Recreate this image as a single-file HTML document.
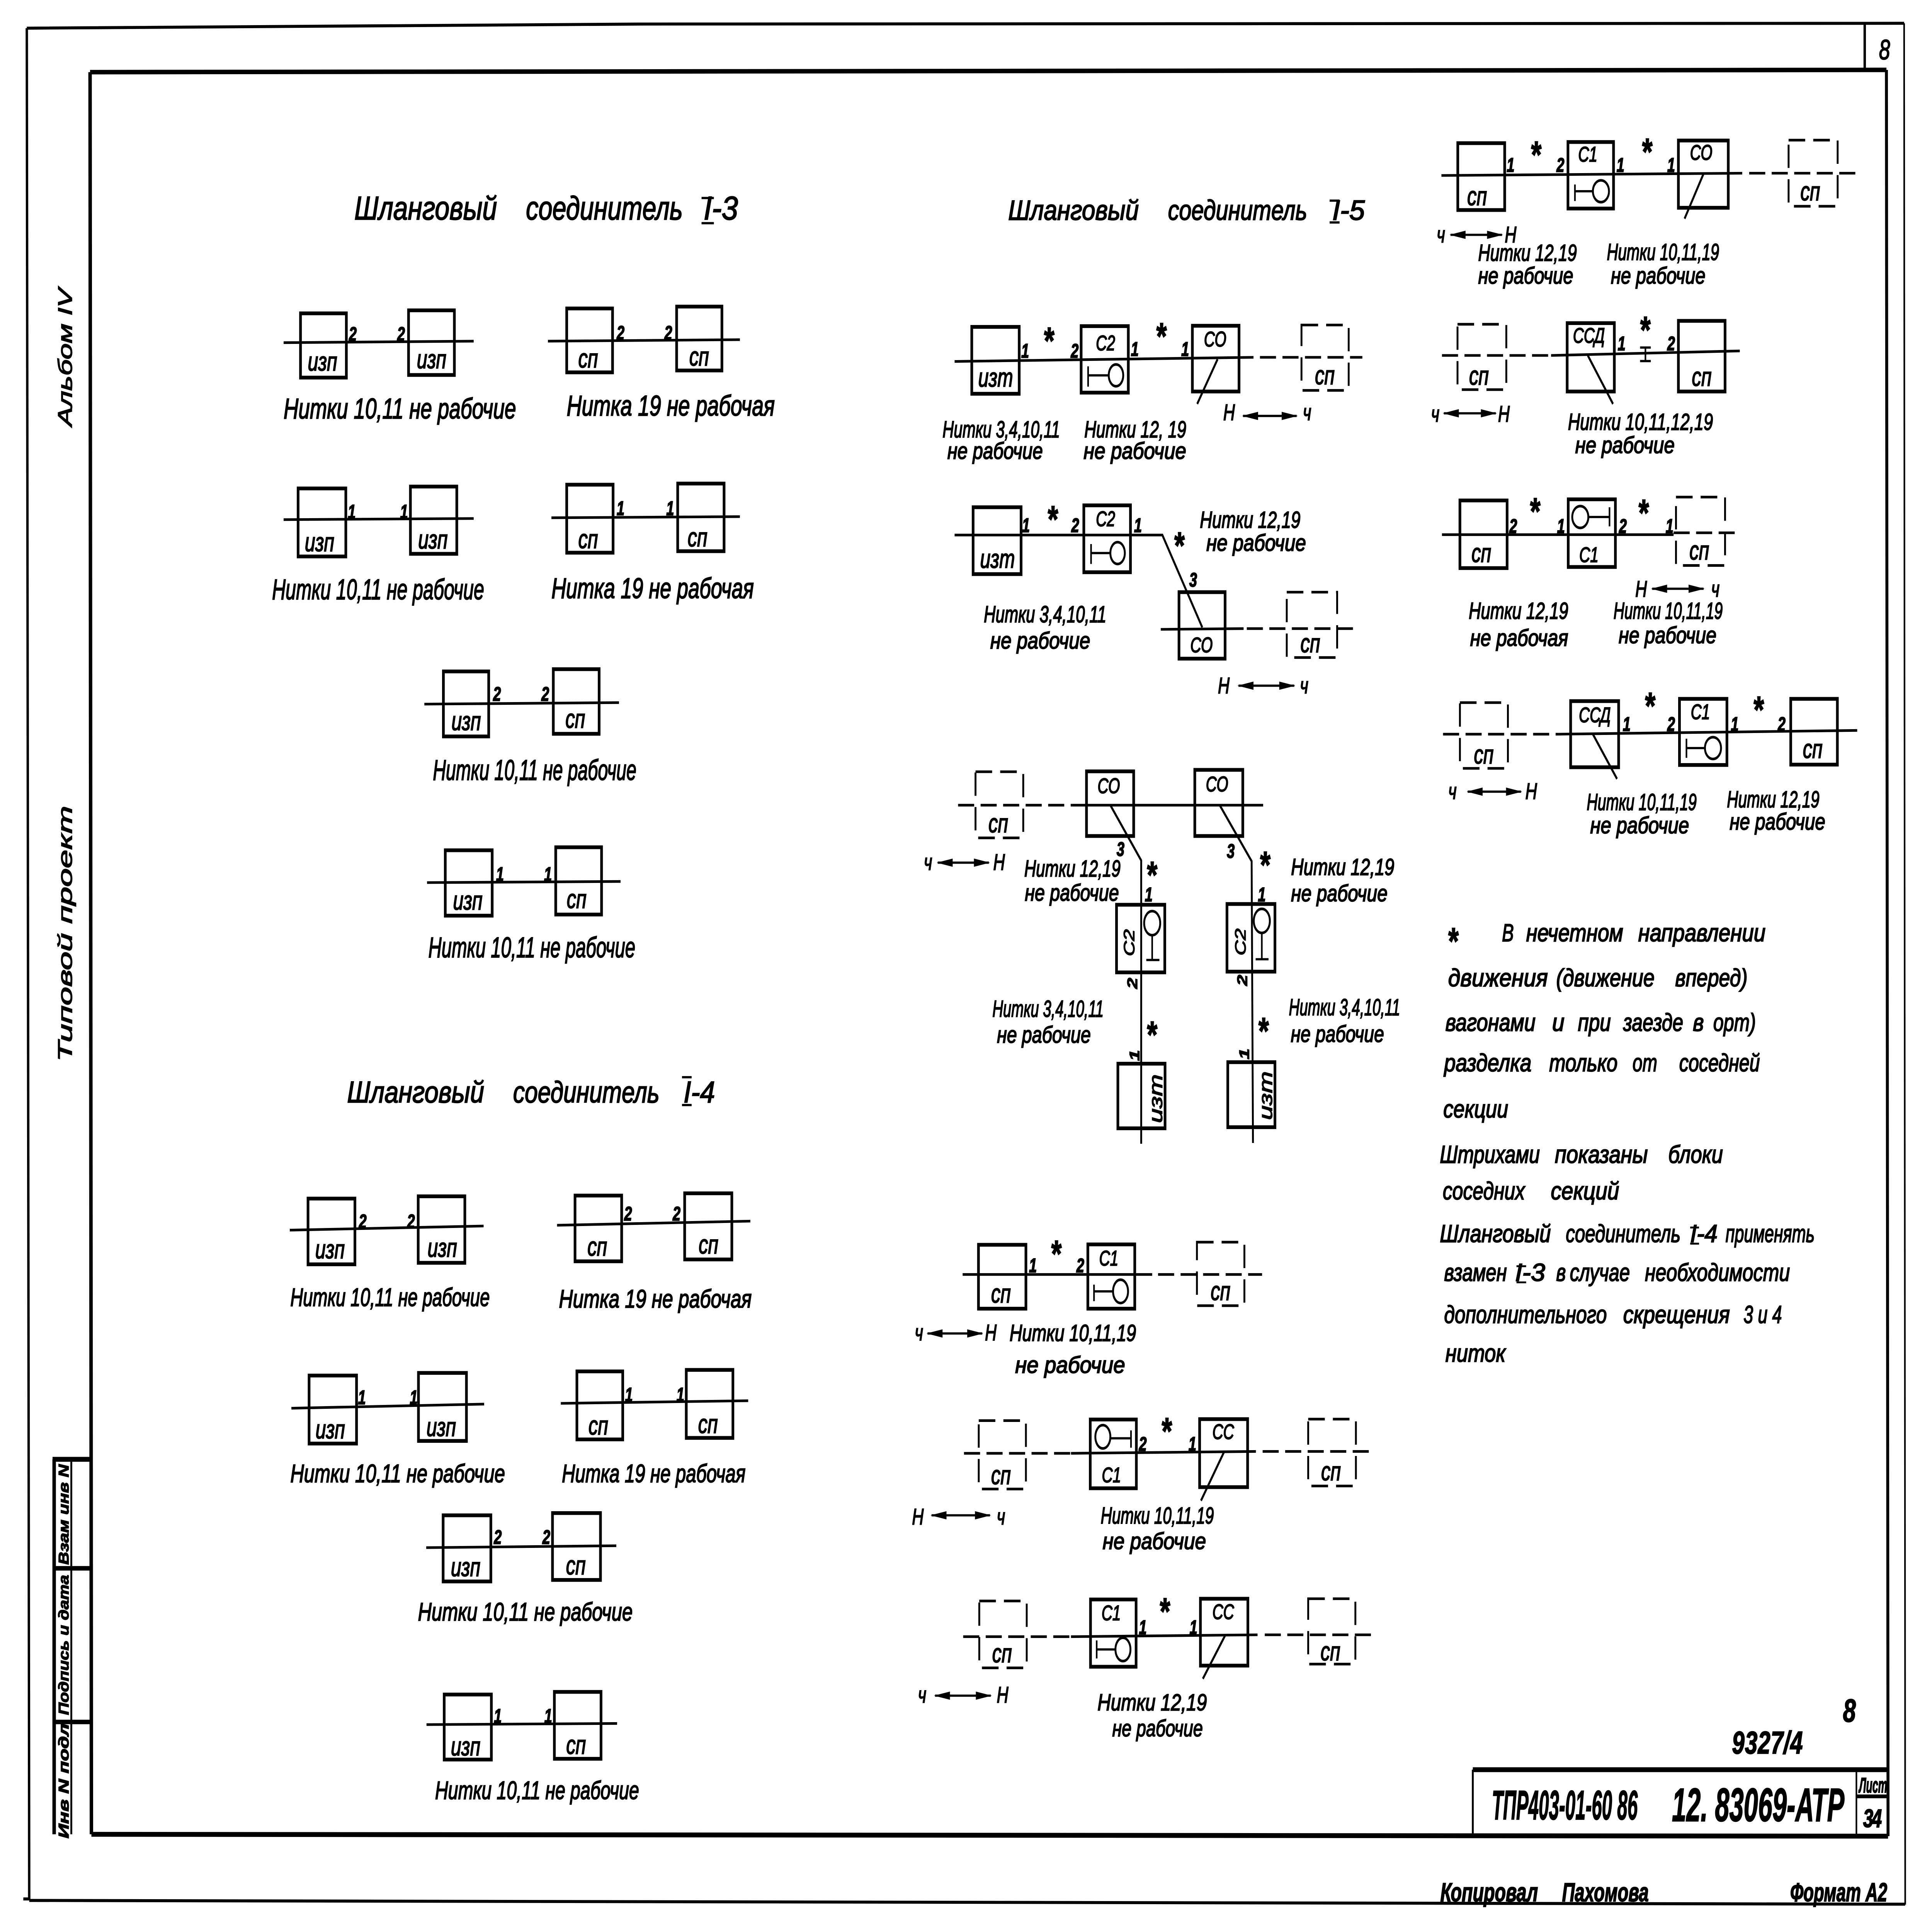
<!DOCTYPE html>
<html lang="ru"><head><meta charset="utf-8"><title>Шланговый соединитель</title>
<style>
html,body{margin:0;padding:0;background:#fff;width:100%;height:100%;overflow:hidden}
svg{display:block;width:100vw;height:100vh}
text{font-family:"Liberation Sans","DejaVu Sans",sans-serif;font-style:italic;fill:#000;stroke:#000;stroke-width:2.5px}
.c{font-size:76px}
.e{font-size:68px}
.d{font-size:62px}
.t{font-size:88px}
.t2{font-size:80px}
.t3{font-size:74px}
.k{font-size:74px}
.w{font-size:66px}
.l{font-size:70px;text-anchor:middle}
.u{font-size:56px;text-anchor:middle}
.n{font-size:52px;text-anchor:middle;font-weight:bold}
.s{font-size:100px;text-anchor:middle;font-style:normal;font-weight:bold}
.a{font-size:60px;text-anchor:middle}
.b{font-weight:bold}
.f path,.f polyline,.f line{fill:none;stroke:#000}
.R rect{fill:none;stroke:#000;stroke-width:10}
.D rect{fill:none;stroke:#000;stroke-width:7;stroke-dasharray:62 30}
.L path{fill:none;stroke:#000;stroke-width:7}
.Q path{fill:none;stroke:#000;stroke-width:7;stroke-dasharray:60 24}
.S path{fill:none;stroke:#000;stroke-width:6}
.S ellipse{fill:none;stroke:#000;stroke-width:7}
.A path{fill:none;stroke:#000;stroke-width:6;marker-start:url(#m);marker-end:url(#m)}
</style></head><body>
<svg xmlns="http://www.w3.org/2000/svg" viewBox="0 0 7207 5142" preserveAspectRatio="none">
<defs><marker id="m" markerUnits="userSpaceOnUse" markerWidth="60" markerHeight="24" refX="56" refY="12" orient="auto-start-reverse"><path d="M0 1L60 12L0 23Z" fill="#000" stroke="none"/></marker></defs>
<rect width="7207" height="5142" fill="#fff"/>

<!-- frames -->
<g class="f">
<polyline points="100,75 2400,64 7103,62" stroke-width="8"/>
<path d="M100 75L109 5057" stroke-width="9"/>
<path d="M87 5054H109M109 5058L7107 5068" stroke-width="8"/>
<path d="M7103 62L7107 5069" stroke-width="6"/>
<path d="M336 192L7037 186" stroke-width="12"/>
<path d="M336 192L341 4882" stroke-width="13"/>
<path d="M341 4882L7043 4887" stroke-width="13"/>
<path d="M7037 186L7043 4887" stroke-width="11"/>
<path d="M6956 63V186" stroke-width="9"/>
<!-- title block -->
<path d="M5494 4710H7043" stroke-width="13"/>
<path d="M5494 4710V4887" stroke-width="7"/>
<path d="M6925 4716V4885" stroke-width="6"/>
<path d="M6925 4781H7043" stroke-width="10"/>
<!-- side stamp -->
<path d="M202 3884V4882" stroke-width="13"/>
<path d="M196 3884H335" stroke-width="13"/>
<path d="M196 4174H335M196 4583H335" stroke-width="12"/>
<path d="M266 3884V4882" stroke-width="7"/>
<!-- roman numeral bars -->
<path d="M2617 527H2663M2617 594H2663M4960 534H4997M4960 592H4997M2544 2867H2580M2544 2941H2580" stroke-width="6"/>
<path d="M6305 3267H6338M6305 3310H6338M5657 3370H5693M5657 3413H5693" stroke-width="5"/>
</g>
<text class="k" x="7030" y="158" text-anchor="middle" font-size="84">8</text>
<text class="b" transform="translate(256,4740) rotate(-90)" font-size="54" text-anchor="middle">Инв N подл</text>
<text class="b" transform="translate(256,4378) rotate(-90)" font-size="54" text-anchor="middle" textLength="373" lengthAdjust="spacingAndGlyphs">Подпись и дата</text>
<text class="b" transform="translate(256,4031) rotate(-90)" font-size="54" text-anchor="middle" textLength="267" lengthAdjust="spacingAndGlyphs">Взам инв N</text>
<text class="k" transform="translate(268,951) rotate(-90)" text-anchor="middle" textLength="367" lengthAdjust="spacingAndGlyphs">Альбом IV</text>
<text class="k" transform="translate(268,2485) rotate(-90)" text-anchor="middle" textLength="681" lengthAdjust="spacingAndGlyphs">Типовой  проект</text>

<text class="b" x="5565" y="4842" font-size="110" textLength="544" lengthAdjust="spacingAndGlyphs">ТПР403-01-60 86</text>
<text class="b" x="6237" y="4847" font-size="125" textLength="643" lengthAdjust="spacingAndGlyphs">12. 83069-АТР</text>
<text class="b" x="6935" y="4771" font-size="56" textLength="105" lengthAdjust="spacingAndGlyphs">Лист</text>
<text class="b" x="6950" y="4863" font-size="68" textLength="70">34</text>
<text class="b" x="6461" y="4667" font-size="84" textLength="264">9327/4</text>
<text class="b" x="6875" y="4582" font-size="86">8</text>
<text class="b" x="5373" y="5060" font-size="70" textLength="364" lengthAdjust="spacingAndGlyphs">Копировал</text>
<text class="b" x="5827" y="5060" font-size="70" textLength="323" lengthAdjust="spacingAndGlyphs">Пахомова</text>
<text class="b" x="6678" y="5060" font-size="70" textLength="362" lengthAdjust="spacingAndGlyphs">Формат А2</text>

<!-- titles -->
<text class="t" x="1322" y="584" textLength="532" lengthAdjust="spacingAndGlyphs">Шланговый</text>
<text class="t" x="1962" y="584" textLength="585" lengthAdjust="spacingAndGlyphs">соединитель</text>
<text class="t" x="2625" y="584" textLength="128" lengthAdjust="spacingAndGlyphs">I-3</text>
<text class="t2" x="1295" y="2934" textLength="511" lengthAdjust="spacingAndGlyphs">Шланговый</text>
<text class="t2" x="1914" y="2934" textLength="546" lengthAdjust="spacingAndGlyphs">соединитель</text>
<text class="t2" x="2550" y="2934" textLength="117" lengthAdjust="spacingAndGlyphs">I-4</text>
<text class="t3" x="3761" y="585" textLength="487" lengthAdjust="spacingAndGlyphs">Шланговый</text>
<text class="t3" x="4357" y="585" textLength="519" lengthAdjust="spacingAndGlyphs">соединитель</text>
<text class="t3" x="4970" y="585" textLength="121" lengthAdjust="spacingAndGlyphs">I-5</text>

<!-- solid boxes -->
<g class="R">
<rect x="1121" y="834" width="171" height="171"/><rect x="1524" y="826" width="171" height="172"/>
<rect x="2114" y="821" width="171" height="170"/><rect x="2524" y="816" width="169" height="170"/>
<rect x="1112" y="1300" width="178" height="181"/><rect x="1531" y="1295" width="173" height="179"/>
<rect x="2114" y="1290" width="173" height="181"/><rect x="2528" y="1287" width="173" height="180"/>
<rect x="1654" y="1787" width="169" height="173"/><rect x="2064" y="1781" width="171" height="172"/>
<rect x="1661" y="2263" width="175" height="174"/><rect x="2073" y="2255" width="171" height="179"/>
<rect x="1149" y="3190" width="175" height="175"/><rect x="1560" y="3184" width="174" height="177"/>
<rect x="2145" y="3182" width="174" height="175"/><rect x="2554" y="3176" width="176" height="176"/>
<rect x="1153" y="3661" width="177" height="181"/><rect x="1561" y="3654" width="179" height="181"/>
<rect x="2152" y="3650" width="171" height="181"/><rect x="2560" y="3646" width="174" height="181"/>
<rect x="1653" y="4033" width="178" height="176"/><rect x="2061" y="4027" width="179" height="178"/>
<rect x="1657" y="4510" width="176" height="173"/><rect x="2068" y="4503" width="174" height="178"/>
<rect x="3625" y="870" width="177" height="178"/><rect x="4033" y="868" width="176" height="177"/><rect x="4448" y="867" width="174" height="175"/>
<rect x="3630" y="1350" width="179" height="178"/><rect x="4043" y="1345" width="174" height="178"/><rect x="4398" y="1576" width="172" height="177"/>
<rect x="4053" y="2053" width="176" height="172"/><rect x="4457" y="2049" width="179" height="176"/>
<rect x="4165" y="2408" width="180" height="180"/><rect x="4577" y="2406" width="179" height="180"/>
<rect x="4170" y="2831" width="176" height="172"/><rect x="4580" y="2827" width="176" height="173"/>
<rect x="3650" y="3313" width="177" height="170"/><rect x="4058" y="3312" width="175" height="171"/>
<rect x="4067" y="3778" width="172" height="183"/><rect x="4475" y="3777" width="179" height="181"/>
<rect x="4068" y="4257" width="170" height="179"/><rect x="4478" y="4255" width="177" height="178"/>
<rect x="5438" y="381" width="175" height="178"/><rect x="5849" y="378" width="170" height="177"/><rect x="6261" y="374" width="186" height="179"/>
<rect x="5846" y="860" width="176" height="182"/><rect x="6261" y="854" width="174" height="188"/>
<rect x="5446" y="1332" width="176" height="180"/><rect x="5850" y="1329" width="176" height="180"/>
<rect x="5859" y="1866" width="179" height="176"/><rect x="6265" y="1860" width="177" height="176"/><rect x="6680" y="1860" width="174" height="175"/>
</g>
<g class="D">
<rect x="4855" y="865" width="176" height="174"/><rect x="4800" y="1576" width="188" height="174"/>
<rect x="3639" y="2054" width="178" height="176"/><rect x="4465" y="3306" width="177" height="169"/>
<rect x="3651" y="3781" width="176" height="182"/><rect x="4880" y="3777" width="178" height="178"/>
<rect x="3653" y="4261" width="177" height="178"/><rect x="4880" y="4255" width="176" height="174"/>
<rect x="6672" y="373" width="183" height="176"/><rect x="5437" y="863" width="182" height="174"/>
<rect x="6252" y="1323" width="183" height="182"/><rect x="5446" y="1870" width="179" height="175"/>
</g>

<!-- solid wires -->
<g class="L">
<path d="M1058 912L1767 908"/><path d="M2044 908L2760 904"/>
<path d="M1058 1383L1767 1380"/><path d="M2057 1378L2760 1375"/>
<path d="M1583 1874L2309 1870"/><path d="M1593 2349L2315 2346"/>
<path d="M1081 3274L1804 3263"/><path d="M2078 3261L2799 3250"/>
<path d="M1087 3748L1806 3737"/><path d="M2092 3735L2791 3728"/>
<path d="M1590 4119L2299 4114"/><path d="M1591 4590L2302 4587"/>
<path d="M3561 962L4676 951"/>
<path d="M3561 1424H4336L4485 1670"/><path d="M4330 1675L4639 1673"/>
<path d="M3999 2143H4712" stroke-width="9"/>
<path d="M4142 2143L4257 2290V3044"/><path d="M4550 2143L4669 2292L4674 3042"/>
<path d="M3591 3392H4298"/>
<path d="M3995 3868L4685 3863"/>
<path d="M3995 4356L4691 4351"/>
<path d="M5377 467L6499 461"/>
<path d="M5786 946L6490 934"/>
<path d="M5379 1423H6243"/>
<path d="M5815 1954L6928 1944"/>
<path d="M4542 956L4466 1075"/>
<path d="M4567 3863L4480 3994"/>
<path d="M4570 4353L4487 4468"/>
<path d="M6355 462L6284 582"/>
<path d="M5923 946L6017 1075"/>
<path d="M5942 1954L6032 2073"/>
</g>
<g class="Q">
<path d="M4700 951H5082"/><path d="M4651 1673H5050"/><path d="M3574 2143H3999" stroke-width="9"/>
<path d="M4320 3392H4708"/><path d="M3596 3868H3995"/><path d="M4710 3863H5108"/>
<path d="M3593 4356H3995"/><path d="M4718 4351H5118"/>
<path d="M6525 461H6932"/><path d="M5379 946H5786"/><path d="M6243 1418H6489"/><path d="M5383 1954H5815"/>
</g>

<!-- signals -->
<g class="S">
<path d="M4059 975V1029M4059 999H4136"/><ellipse cx="4163" cy="999" rx="27" ry="29"/>
<path d="M4070 1448V1501M4070 1472H4142"/><ellipse cx="4169" cy="1472" rx="27" ry="29"/>
<ellipse cx="4298" cy="2457" rx="30" ry="32"/><path d="M4298 2489V2555M4276 2555H4325"/>
<ellipse cx="4707" cy="2451" rx="30" ry="32"/><path d="M4707 2483V2553M4684 2553H4732"/>
<path d="M4081 3419V3463M4081 3437H4152"/><ellipse cx="4180" cy="3437" rx="28" ry="31"/>
<ellipse cx="4114" cy="3824" rx="28" ry="31"/><path d="M4142 3828H4219M4219 3807V3853"/>
<path d="M4091 4366V4414M4091 4390H4161"/><ellipse cx="4189" cy="4390" rx="28" ry="31"/>
<path d="M5875 491V535M5875 509H5942"/><ellipse cx="5972" cy="509" rx="30" ry="29"/>
<ellipse cx="5895" cy="1376" rx="30" ry="29"/><path d="M5925 1376H6004M6004 1350V1401"/>
<path d="M6291 1966V2017M6291 1991H6360"/><ellipse cx="6390" cy="1991" rx="30" ry="29"/>
<path d="M6118 925H6158M6118 961H6158M6138 925V961"/>
</g>

<!-- arrows -->
<g class="A">
<path d="M4637 1107H4837"/><path d="M4620 1825H4828"/><path d="M3498 2296H3689"/>
<path d="M3460 3549H3664"/><path d="M3475 4033H3693"/><path d="M3488 4513H3696"/>
<path d="M5411 625H5603"/><path d="M5386 1100H5580"/><path d="M6163 1567H6355"/><path d="M5475 2107H5674"/>
</g>
<text class="a" x="4585" y="1118">Н</text><text class="a" x="4876" y="1118">ч</text>
<text class="a" x="4565" y="1845">Н</text><text class="a" x="4865" y="1845">ч</text>
<text class="a" x="3462" y="2315">ч</text><text class="a" x="3727" y="2315">Н</text>
<text class="a" x="3428" y="3567">ч</text><text class="a" x="3696" y="3567">Н</text>
<text class="a" x="3424" y="4057">Н</text><text class="a" x="3734" y="4057">ч</text>
<text class="a" x="3440" y="4531">ч</text><text class="a" x="3740" y="4531">Н</text>
<text class="a" x="5375" y="645">ч</text><text class="a" x="5635" y="645">Н</text>
<text class="a" x="5354" y="1122">ч</text><text class="a" x="5610" y="1122">Н</text>
<text class="a" x="6122" y="1588">Н</text><text class="a" x="6399" y="1588">ч</text>
<text class="a" x="5418" y="2126">ч</text><text class="a" x="5712" y="2126">Н</text>

<!-- box labels: lower-case -->
<g>
<text class="l" x="1203" y="986">изп</text><text class="l" x="1610" y="980">изп</text><text class="l" x="2194" y="978">сп</text><text class="l" x="2608" y="973">сп</text>
<text class="l" x="1192" y="1467">изп</text><text class="l" x="1615" y="1460">изп</text><text class="l" x="2194" y="1459">сп</text><text class="l" x="2602" y="1454">сп</text>
<text class="l" x="1739" y="1943">изп</text><text class="l" x="2146" y="1937">сп</text>
<text class="l" x="1745" y="2421">изп</text><text class="l" x="2151" y="2417">сп</text>
<text class="l" x="1231" y="3349">изп</text><text class="l" x="1650" y="3345">изп</text><text class="l" x="2228" y="3342">сп</text><text class="l" x="2643" y="3336">сп</text>
<text class="l" x="1232" y="3828">изп</text><text class="l" x="1646" y="3822">изп</text><text class="l" x="2232" y="3818">сп</text><text class="l" x="2641" y="3814">сп</text>
<text class="l" x="1737" y="4195">изп</text><text class="l" x="2148" y="4190">сп</text>
<text class="l" x="1737" y="4672">изп</text><text class="l" x="2149" y="4668">сп</text>
<text class="l" x="3714" y="1029">изт</text><text class="l" x="4942" y="1023">сп</text>
<text class="l" x="3721" y="1511">изт</text><text class="l" x="4888" y="1736">сп</text>
<text class="l" x="3724" y="2215">сп</text>
<text class="l" x="3734" y="3467">сп</text><text class="l" x="4553" y="3460">сп</text>
<text class="l" x="3734" y="3950">сп</text><text class="l" x="4965" y="3940">сп</text>
<text class="l" x="3738" y="4424">сп</text><text class="l" x="4963" y="4419">сп</text>
<text class="l" x="5510" y="546">сп</text><text class="l" x="6753" y="533">сп</text>
<text class="l" x="5517" y="1024">сп</text><text class="l" x="6348" y="1027">сп</text>
<text class="l" x="5526" y="1496">сп</text><text class="l" x="6339" y="1489">сп</text>
<text class="l" x="6762" y="2017">сп</text><text class="l" x="5535" y="2032">сп</text>
<text class="l" transform="translate(4335,2924) rotate(-90)">изт</text>
<text class="l" transform="translate(4745,2916) rotate(-90)">изт</text>
</g>
<!-- box labels: upper-case -->
<g>
<text class="u" x="4124" y="932">С2</text><text class="u" x="4533" y="922">СО</text>
<text class="u" x="4124" y="1400">С2</text><text class="u" x="4482" y="1736">СО</text>
<text class="u" x="4136" y="2111">СО</text><text class="u" x="4540" y="2106">СО</text>
<text class="u" transform="translate(4231,2509) rotate(-90)">С2</text>
<text class="u" transform="translate(4646,2507) rotate(-90)">С2</text>
<text class="u" x="4136" y="3368">С1</text>
<text class="u" x="4146" y="3945">С1</text><text class="u" x="4563" y="3830">СС</text>
<text class="u" x="4145" y="4312">С1</text><text class="u" x="4563" y="4309">СС</text>
<text class="u" x="5923" y="430">С1</text><text class="u" x="6346" y="425">СО</text>
<text class="u" x="5927" y="912">ССД</text>
<text class="u" x="5927" y="1496">С1</text>
<text class="u" x="5949" y="1922">ССД</text><text class="u" x="6343" y="1914">С1</text>
</g>
<!-- port numbers -->
<g>
<text class="n" x="1316" y="907">2</text><text class="n" x="1496" y="907">2</text><text class="n" x="2315" y="904">2</text><text class="n" x="2493" y="904">2</text>
<text class="n" x="1312" y="1380">1</text><text class="n" x="1507" y="1380">1</text><text class="n" x="2315" y="1371">1</text><text class="n" x="2500" y="1371">1</text>
<text class="n" x="1854" y="1865">2</text><text class="n" x="2034" y="1865">2</text>
<text class="n" x="1865" y="2345">1</text><text class="n" x="2044" y="2345">1</text>
<text class="n" x="1353" y="3269">2</text><text class="n" x="1533" y="3269">2</text><text class="n" x="2343" y="3248">2</text><text class="n" x="2524" y="3248">2</text>
<text class="n" x="1350" y="3737">1</text><text class="n" x="1543" y="3737">1</text><text class="n" x="2346" y="3730">1</text><text class="n" x="2538" y="3730">1</text>
<text class="n" x="1857" y="4109">2</text><text class="n" x="2038" y="4109">2</text>
<text class="n" x="1857" y="4585">1</text><text class="n" x="2045" y="4585">1</text>
<text class="n" x="3824" y="952">1</text><text class="n" x="4009" y="952">2</text><text class="n" x="4233" y="947">1</text><text class="n" x="4421" y="947">1</text>
<text class="n" x="3827" y="1416">1</text><text class="n" x="4011" y="1416">2</text><text class="n" x="4245" y="1416">1</text><text class="n" x="4451" y="1561">3</text>
<text class="n" x="4180" y="2278">3</text><text class="n" x="4591" y="2283">3</text>
<text class="n" x="4285" y="2399">1</text><text class="n" x="4707" y="2399">1</text>
<text class="n" transform="translate(4242,2617) rotate(-90)">2</text><text class="n" transform="translate(4652,2609) rotate(-90)">2</text>
<text class="n" transform="translate(4250,2809) rotate(-90)">1</text><text class="n" transform="translate(4659,2805) rotate(-90)">1</text>
<text class="n" x="3853" y="3386">1</text><text class="n" x="4030" y="3386">2</text>
<text class="n" x="4263" y="3861">2</text><text class="n" x="4448" y="3861">1</text>
<text class="n" x="4263" y="4349">1</text><text class="n" x="4452" y="4349">1</text>
<text class="n" x="5635" y="457">1</text><text class="n" x="5821" y="457">2</text><text class="n" x="6045" y="457">1</text><text class="n" x="6234" y="457">1</text>
<text class="n" x="6049" y="932">1</text><text class="n" x="6234" y="932">2</text>
<text class="n" x="5645" y="1418">2</text><text class="n" x="5823" y="1418">1</text><text class="n" x="6054" y="1418">2</text><text class="n" x="6228" y="1418">1</text>
<text class="n" x="6068" y="1945">1</text><text class="n" x="6234" y="1945">2</text><text class="n" x="6471" y="1945">1</text><text class="n" x="6646" y="1945">2</text>
</g>
<!-- stars -->
<g>
<text class="s" x="3914" y="941">*</text><text class="s" x="4333" y="929">*</text>
<text class="s" x="3928" y="1416">*</text><text class="s" x="4400" y="1486">*</text>
<text class="s" x="4298" y="2363">*</text><text class="s" x="4720" y="2336">*</text><text class="s" x="4298" y="2788">*</text><text class="s" x="4714" y="2778">*</text>
<text class="s" x="3941" y="3371">*</text><text class="s" x="4353" y="3843">*</text><text class="s" x="4346" y="4323">*</text>
<text class="s" x="5731" y="446">*</text><text class="s" x="6145" y="438">*</text><text class="s" x="6138" y="912">*</text>
<text class="s" x="5727" y="1395">*</text><text class="s" x="6132" y="1399">*</text>
<text class="s" x="6156" y="1913">*</text><text class="s" x="6561" y="1923">*</text>
<text class="s" x="5422" y="2539">*</text>
</g>

<!-- captions -->
<g>
<text class="c" x="1058" y="1114" textLength="867" lengthAdjust="spacingAndGlyphs">Нитки 10,11 не рабочие</text>
<text class="c" x="2114" y="1106" textLength="776" lengthAdjust="spacingAndGlyphs">Нитка 19 не рабочая</text>
<text class="c" x="1015" y="1595" textLength="791" lengthAdjust="spacingAndGlyphs">Нитки 10,11 не рабочие</text>
<text class="c" x="2057" y="1592" textLength="755" lengthAdjust="spacingAndGlyphs">Нитка 19 не рабочая</text>
<text class="c" x="1615" y="2076" textLength="759" lengthAdjust="spacingAndGlyphs">Нитки 10,11 не рабочие</text>
<text class="c" x="1598" y="2548" textLength="772" lengthAdjust="spacingAndGlyphs">Нитки 10,11 не рабочие</text>
<text class="e" x="1083" y="3476" textLength="744" lengthAdjust="spacingAndGlyphs">Нитки 10,11 не рабочие</text>
<text class="e" x="2085" y="3480" textLength="719" lengthAdjust="spacingAndGlyphs">Нитка 19 не рабочая</text>
<text class="e" x="1083" y="3945" textLength="801" lengthAdjust="spacingAndGlyphs">Нитки 10,11 не рабочие</text>
<text class="e" x="2096" y="3945" textLength="685" lengthAdjust="spacingAndGlyphs">Нитка 19 не рабочая</text>
<text class="e" x="1559" y="4313" textLength="801" lengthAdjust="spacingAndGlyphs">Нитки 10,11 не рабочие</text>
<text class="e" x="1623" y="4788" textLength="761" lengthAdjust="spacingAndGlyphs">Нитки 10,11 не рабочие</text>

<text class="d" x="3516" y="1164" textLength="438" lengthAdjust="spacingAndGlyphs">Нитки 3,4,10,11</text>
<text class="d" x="3534" y="1221" textLength="356" lengthAdjust="spacingAndGlyphs">не рабочие</text>
<text class="d" x="4045" y="1164" textLength="380" lengthAdjust="spacingAndGlyphs">Нитки 12, 19</text>
<text class="d" x="4042" y="1221" textLength="383" lengthAdjust="spacingAndGlyphs">не рабочие</text>
<text class="d" x="4476" y="1405" textLength="375" lengthAdjust="spacingAndGlyphs">Нитки 12,19</text>
<text class="d" x="4500" y="1466" textLength="372" lengthAdjust="spacingAndGlyphs">не рабочие</text>
<text class="d" x="3670" y="1656" textLength="457" lengthAdjust="spacingAndGlyphs">Нитки 3,4,10,11</text>
<text class="d" x="3694" y="1726" textLength="373" lengthAdjust="spacingAndGlyphs">не рабочие</text>
<text class="d" x="3821" y="2333" textLength="359" lengthAdjust="spacingAndGlyphs">Нитки 12,19</text>
<text class="d" x="3823" y="2397" textLength="351" lengthAdjust="spacingAndGlyphs">не рабочие</text>
<text class="d" x="4816" y="2329" textLength="385" lengthAdjust="spacingAndGlyphs">Нитки 12,19</text>
<text class="d" x="4816" y="2399" textLength="360" lengthAdjust="spacingAndGlyphs">не рабочие</text>
<text class="d" x="3702" y="2706" textLength="415" lengthAdjust="spacingAndGlyphs">Нитки 3,4,10,11</text>
<text class="d" x="3719" y="2775" textLength="350" lengthAdjust="spacingAndGlyphs">не рабочие</text>
<text class="d" x="4808" y="2702" textLength="415" lengthAdjust="spacingAndGlyphs">Нитки 3,4,10,11</text>
<text class="d" x="4815" y="2773" textLength="348" lengthAdjust="spacingAndGlyphs">не рабочие</text>
<text class="d" x="3766" y="3569" textLength="472" lengthAdjust="spacingAndGlyphs">Нитки 10,11,19</text>
<text class="d" x="3787" y="3654" textLength="410" lengthAdjust="spacingAndGlyphs">не рабочие</text>
<text class="d" x="4106" y="4055" textLength="422" lengthAdjust="spacingAndGlyphs">Нитки 10,11,19</text>
<text class="d" x="4113" y="4123" textLength="386" lengthAdjust="spacingAndGlyphs">не рабочие</text>
<text class="d" x="4094" y="4552" textLength="408" lengthAdjust="spacingAndGlyphs">Нитки 12,19</text>
<text class="d" x="4149" y="4621" textLength="338" lengthAdjust="spacingAndGlyphs">не рабочие</text>

<text class="d" x="5514" y="694" textLength="368" lengthAdjust="spacingAndGlyphs">Нитки 12,19</text>
<text class="d" x="5514" y="755" textLength="355" lengthAdjust="spacingAndGlyphs">не рабочие</text>
<text class="d" x="5994" y="692" textLength="419" lengthAdjust="spacingAndGlyphs">Нитки 10,11,19</text>
<text class="d" x="6009" y="755" textLength="353" lengthAdjust="spacingAndGlyphs">не рабочие</text>
<text class="d" x="5849" y="1144" textLength="541" lengthAdjust="spacingAndGlyphs">Нитки 10,11,12,19</text>
<text class="d" x="5876" y="1206" textLength="371" lengthAdjust="spacingAndGlyphs">не рабочие</text>
<text class="d" x="5479" y="1647" textLength="371" lengthAdjust="spacingAndGlyphs">Нитки 12,19</text>
<text class="d" x="5484" y="1719" textLength="366" lengthAdjust="spacingAndGlyphs">не рабочая</text>
<text class="d" x="6019" y="1647" textLength="407" lengthAdjust="spacingAndGlyphs">Нитки 10,11,19</text>
<text class="d" x="6038" y="1712" textLength="365" lengthAdjust="spacingAndGlyphs">не рабочие</text>
<text class="d" x="5919" y="2156" textLength="410" lengthAdjust="spacingAndGlyphs">Нитки 10,11,19</text>
<text class="d" x="5932" y="2218" textLength="369" lengthAdjust="spacingAndGlyphs">не рабочие</text>
<text class="d" x="6442" y="2149" textLength="345" lengthAdjust="spacingAndGlyphs">Нитки 12,19</text>
<text class="d" x="6452" y="2208" textLength="357" lengthAdjust="spacingAndGlyphs">не рабочие</text>
</g>

<!-- notes -->
<g>
<text class="w" x="5603" y="2505" textLength="44" lengthAdjust="spacingAndGlyphs">В</text>
<text class="w" x="5693" y="2505" textLength="362" lengthAdjust="spacingAndGlyphs">нечетном</text>
<text class="w" x="6111" y="2505" textLength="475" lengthAdjust="spacingAndGlyphs">направлении</text>
<text class="w" x="5402" y="2625" textLength="372" lengthAdjust="spacingAndGlyphs">движения</text>
<text class="w" x="5805" y="2625" textLength="367" lengthAdjust="spacingAndGlyphs">(движение</text>
<text class="w" x="6249" y="2625" textLength="270" lengthAdjust="spacingAndGlyphs">вперед)</text>
<text class="w" x="5392" y="2744" textLength="336" lengthAdjust="spacingAndGlyphs">вагонами</text>
<text class="w" x="5790" y="2744" textLength="46" lengthAdjust="spacingAndGlyphs">и</text>
<text class="w" x="5886" y="2744" textLength="123" lengthAdjust="spacingAndGlyphs">при</text>
<text class="w" x="6055" y="2744" textLength="224" lengthAdjust="spacingAndGlyphs">заезде</text>
<text class="w" x="6315" y="2744" textLength="41" lengthAdjust="spacingAndGlyphs">в</text>
<text class="w" x="6391" y="2744" textLength="159" lengthAdjust="spacingAndGlyphs">орт)</text>
<text class="w" x="5387" y="2851" textLength="326" lengthAdjust="spacingAndGlyphs">разделка</text>
<text class="w" x="5779" y="2851" textLength="255" lengthAdjust="spacingAndGlyphs">только</text>
<text class="w" x="6090" y="2851" textLength="92" lengthAdjust="spacingAndGlyphs">от</text>
<text class="w" x="6264" y="2851" textLength="301" lengthAdjust="spacingAndGlyphs">соседней</text>
<text class="w" x="5384" y="2974" textLength="242" lengthAdjust="spacingAndGlyphs">секции</text>
<text class="w" x="5371" y="3095" textLength="373" lengthAdjust="spacingAndGlyphs">Штрихами</text>
<text class="w" x="5800" y="3095" textLength="347" lengthAdjust="spacingAndGlyphs">показаны</text>
<text class="w" x="6223" y="3095" textLength="204" lengthAdjust="spacingAndGlyphs">блоки</text>
<text class="w" x="5382" y="3192" textLength="306" lengthAdjust="spacingAndGlyphs">соседних</text>
<text class="w" x="5785" y="3192" textLength="255" lengthAdjust="spacingAndGlyphs">секций</text>
<text class="w" x="5371" y="3306" textLength="414" lengthAdjust="spacingAndGlyphs">Шланговый</text>
<text class="w" x="5841" y="3306" textLength="428" lengthAdjust="spacingAndGlyphs">соединитель</text>
<text class="w" x="6305" y="3306" textLength="102" lengthAdjust="spacingAndGlyphs">I-4</text>
<text class="w" x="6437" y="3306" textLength="332" lengthAdjust="spacingAndGlyphs">применять</text>
<text class="w" x="5387" y="3409" textLength="234" lengthAdjust="spacingAndGlyphs">взамен</text>
<text class="w" x="5652" y="3409" textLength="112" lengthAdjust="spacingAndGlyphs">I-3</text>
<text class="w" x="5805" y="3409" textLength="36" lengthAdjust="spacingAndGlyphs">в</text>
<text class="w" x="5856" y="3409" textLength="224" lengthAdjust="spacingAndGlyphs">случае</text>
<text class="w" x="6136" y="3409" textLength="541" lengthAdjust="spacingAndGlyphs">необходимости</text>
<text class="w" x="5387" y="3521" textLength="607" lengthAdjust="spacingAndGlyphs">дополнительного</text>
<text class="w" x="6055" y="3521" textLength="398" lengthAdjust="spacingAndGlyphs">скрещения</text>
<text class="w" x="6504" y="3521" textLength="143" lengthAdjust="spacingAndGlyphs">3 и 4</text>
<text class="w" x="5392" y="3624" textLength="224" lengthAdjust="spacingAndGlyphs">ниток</text>
</g>
</svg>
</body></html>
